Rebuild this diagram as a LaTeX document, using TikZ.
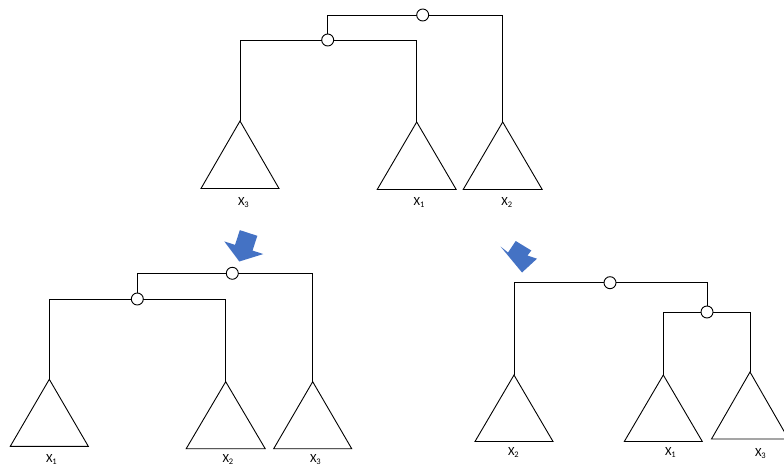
\documentclass[tikz,border=0pt]{standalone}
\usepackage{fontspec}
\setmainfont{Carlito}
\definecolor{arrowblue}{HTML}{4472C4}
\newcommand{\xlab}[1]{{\fontsize{12.5}{12.5}\selectfont X}\raisebox{-2pt}{\fontsize{8.5}{8.5}\selectfont #1}}
\tikzset{
  junction/.style={circle, draw=black, fill=white, line width=0.9pt, minimum size=12pt, inner sep=0pt, outer sep=0pt},
  branch/.style={draw=black, line width=0.9pt},
  subtree/.style={draw=black, line width=0.9pt, line join=miter},
  leaflabel/.style={anchor=base west, inner sep=0pt, outer sep=0pt},
  bigarrow/.style={fill=arrowblue, draw=none}
}
\begin{document}
\begin{tikzpicture}[x=1pt, y=-1pt]
\useasboundingbox (0,0) rectangle (784,465);

% ---------- top tree ----------
\coordinate (tA3) at (240,121);
\coordinate (tA1) at (416.7,122);
\coordinate (tA2) at (502.7,122);
\node[junction] (tj1) at (422.7,15) {};
\node[junction] (tj2) at (327.7,40) {};
\draw[branch] (tj1.west) -| (tj2.north);
\draw[branch] (tj1.east) -| (tA2);
\draw[branch] (tj2.west) -| (tA3);
\draw[branch] (tj2.east) -| (tA1);
\draw[subtree] (tA3) -- ++(-39,67.5) -- ++(78,0) -- cycle;
\draw[subtree] (tA1) -- ++(-39.5,67.5) -- ++(79,0) -- cycle;
\draw[subtree] (tA2) -- ++(-39.5,67.5) -- ++(79,0) -- cycle;
\node[leaflabel] (tL3) at (238,205.3) {\xlab{3}};
\node[leaflabel] (tL1) at (413.7,205.3) {\xlab{1}};
\node[leaflabel] (tL2) at (501.3,205.3) {\xlab{2}};

% ---------- bottom-left tree ----------
\coordinate (lA1) at (49.3,379.3);
\coordinate (lA2) at (225.7,381.7);
\coordinate (lA3) at (312.7,381.7);
\node[junction] (lj1) at (232.3,273.3) {};
\node[junction] (lj2) at (137.3,299) {};
\draw[branch] (lj1.west) -| (lj2.north);
\draw[branch] (lj1.east) -| (lA3);
\draw[branch] (lj2.west) -| (lA1);
\draw[branch] (lj2.east) -| (lA2);
\draw[subtree] (lA1) -- ++(-39,67) -- ++(78,0) -- cycle;
\draw[subtree] (lA2) -- ++(-39.5,67) -- ++(79,0) -- cycle;
\draw[subtree] (lA3) -- ++(-39,67) -- ++(78,0) -- cycle;
\node[leaflabel] (lL1) at (46,462.5) {\xlab{1}};
\node[leaflabel] (lL2) at (222.5,462.5) {\xlab{2}};
\node[leaflabel] (lL3) at (310,462.5) {\xlab{3}};

% ---------- bottom-right tree ----------
\coordinate (rA2) at (514,375);
\coordinate (rA1) at (663.3,375);
\coordinate (rA3) at (750,372);
\node[junction] (rj1) at (610,282.7) {};
\node[junction] (rj2) at (707,312) {};
\draw[branch] (rj1.west) -| (rA2);
\draw[branch] (rj1.east) -| (rj2.north);
\draw[branch] (rj2.west) -| (rA1);
\draw[branch] (rj2.east) -| (rA3);
\draw[subtree] (rA2) -- ++(-39,66.5) -- ++(78,0) -- cycle;
\draw[subtree] (rA1) -- ++(-39,66.5) -- ++(78,0) -- cycle;
\draw[subtree] (rA3) -- ++(-38.5,67) -- ++(77,0) -- cycle;
\node[leaflabel] (rL2) at (508,455) {\xlab{2}};
\node[leaflabel] (rL1) at (665,455) {\xlab{1}};
\node[leaflabel] (rL3) at (755,456) {\xlab{3}};

% ---------- blue block arrows ----------
\begin{scope}[shift={(239.3,261.5)}, rotate=-18]
\fill[bigarrow] (0,0) -- (20.5,-14.5) -- (9.2,-14.5) -- (9.2,-30) -- (-9.2,-30)
  -- (-9.2,-14.5) -- (-20.5,-14.5) -- cycle;
\end{scope}
\fill[bigarrow] (515.7,241) -- (531.3,250.5) -- (527.5,255.5) -- (537,258.7) -- (522,272.5)
  -- (500.5,246.5) -- (508,252.5) -- cycle;
\end{tikzpicture}
\end{document}
